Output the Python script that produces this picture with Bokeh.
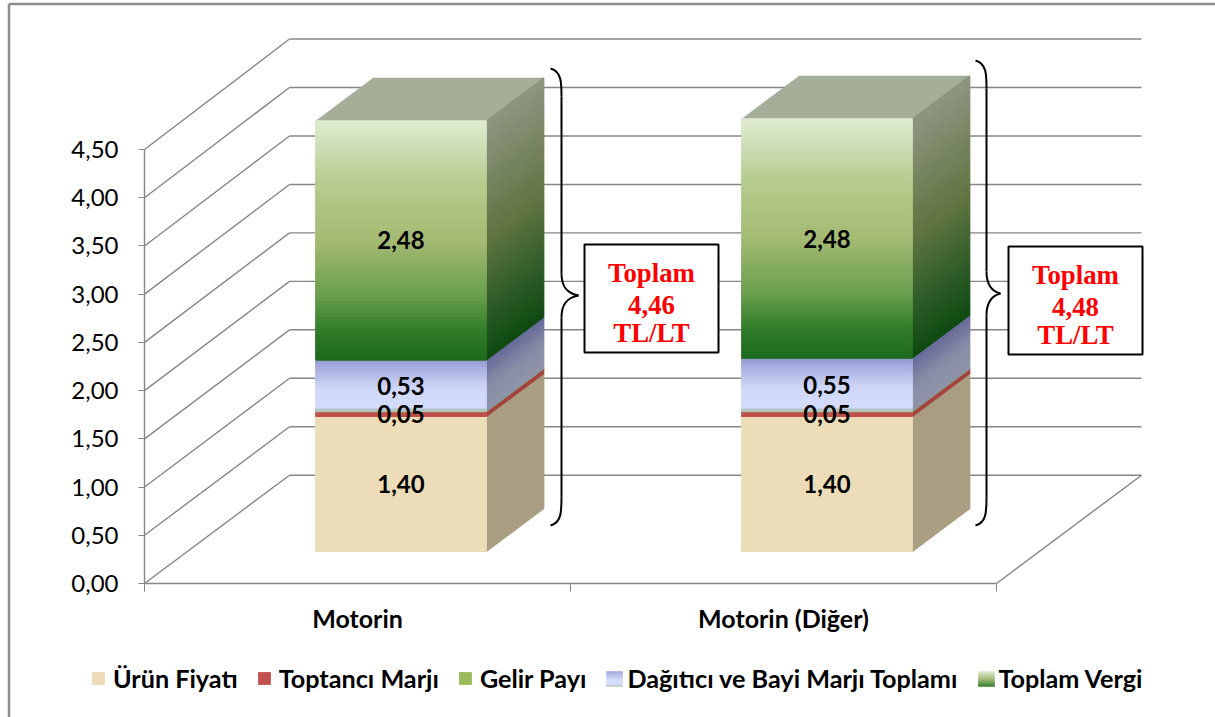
from bokeh.plotting import figure
from bokeh.models import (ColumnDataSource, Range1d, LinearAxis, FixedTicker, Legend, LegendItem,
                          CustomJSTickFormatter)
from bokeh.core.properties import value
from bokeh.embed import file_html
from bokeh.resources import INLINE

# ---- data ----
categories = ["Motorin", "Motorin (Diğer)"]
urun_fiyati = [1.40, 1.40]
toptanci_marji = [0.05, 0.05]
gelir_payi = [0.005, 0.005]
dagitici_bayi = [0.53, 0.55]
toplam_vergi = [2.48, 2.48]
value_labels_urun = ["1,40", "1,40"]
value_labels_toptan = ["0,05", "0,05"]
value_labels_dagitici = ["0,53", "0,55"]
value_labels_vergi = ["2,48", "2,48"]
totals = ["4,46", "4,48"]
y_ticks = [0, 0.5, 1, 1.5, 2, 2.5, 3, 3.5, 4, 4.5]
series_names = ["Ürün Fiyatı", "Toptancı Marjı", "Gelir Payı", "Dağıtıcı ve Bayi Marjı Toplamı", "Toplam Vergi"]

# ---- layout (screen pixels of the page) ----
W, H = 1215, 717
PX_X = 426.0      # pixels per category
PX_Y = 96.44      # pixels per value unit
X0, Y0 = 144.0, 583.0   # where the axes meet
BACK_SCALE = 1.005      # the back wall is drawn very slightly taller


def ux(px):       # horizontal pixel length -> data
    return px / PX_X


def uy(px):       # vertical pixel length -> data
    return px / PX_Y


def dx(px):       # page x -> data x
    return (px - X0) / PX_X


def dy(py):       # page y -> data y
    return (Y0 - py) / PX_Y


FLOOR_X, FLOOR_Y = ux(145), uy(108.3)
BAR_OFF_X, BAR_OFF_Y = ux(43.5), uy(32)
BAR_DEPTH_X, BAR_DEPTH_Y = ux(57.5), uy(43)
BAR_HALF = ux(85.25)

p = figure(width=W, height=H, output_backend="svg", toolbar_location=None,
           x_range=Range1d(dx(0), dx(W)), y_range=Range1d(dy(H), dy(0)),
           min_border=0, outline_line_color=None, x_axis_type=None, y_axis_type=None,
           margin=(0, 0, 0, 0))
p.xgrid.visible = False
p.ygrid.visible = False

GRID = "#868686"
GRID_W = 1.4

# outer frame of the chart area
p.segment([dx(8.5)], [dy(3.5)], [dx(W)], [dy(3.5)], line_color="#8c8c8c", line_width=2.5)
p.segment([dx(8.5)], [dy(3.5)], [dx(8.5)], [dy(H)], line_color="#8c8c8c", line_width=2.5)

# walls: diagonal on the side wall, horizontal on the back wall
n_cat = len(categories)
back_y = [t * BACK_SCALE + FLOOR_Y for t in y_ticks]
p.segment(x0=[0] * len(y_ticks), y0=y_ticks,
          x1=[FLOOR_X] * len(y_ticks), y1=back_y,
          line_color=GRID, line_width=GRID_W)
p.segment(x0=[FLOOR_X] * len(y_ticks), y0=back_y,
          x1=[n_cat + FLOOR_X] * len(y_ticks), y1=back_y,
          line_color=GRID, line_width=GRID_W)
# floor, right edge
p.segment([n_cat], [0], [n_cat + FLOOR_X], [FLOOR_Y], line_color=GRID, line_width=GRID_W)

# axes
yaxis = LinearAxis(ticker=FixedTicker(ticks=y_ticks), fixed_location=0, bounds=(0, 4.5))
yaxis.formatter = CustomJSTickFormatter(code="return tick.toFixed(2).replace('.', ',')")
yaxis.axis_line_color = GRID
yaxis.axis_line_width = GRID_W
yaxis.major_tick_line_color = GRID
yaxis.major_tick_out = 6
yaxis.major_tick_in = 0
yaxis.minor_tick_line_color = None
yaxis.major_label_text_font = "Lato"
yaxis.major_label_text_font_size = "24px"
yaxis.major_label_text_color = "#000000"
yaxis.major_label_standoff = 20
p.add_layout(yaxis, "left")

centres = [i + 0.5 for i in range(n_cat)]
xaxis = LinearAxis(ticker=FixedTicker(ticks=centres, minor_ticks=list(range(n_cat + 1))),
                   fixed_location=0, bounds=(0, n_cat))
xaxis.major_label_overrides = {c: n for c, n in zip(centres, categories)}
xaxis.axis_line_color = GRID
xaxis.axis_line_width = GRID_W
xaxis.major_tick_out = 0
xaxis.major_tick_in = 0
xaxis.minor_tick_out = 8
xaxis.minor_tick_in = 0
xaxis.minor_tick_line_color = GRID
xaxis.major_label_text_font = "Lato"
xaxis.major_label_text_font_style = "bold"
xaxis.major_label_text_font_size = "25px"
xaxis.major_label_text_color = "#000000"
xaxis.major_label_standoff = 11
p.add_layout(xaxis, "below")


# ---- gradient helper: colour stops as (fraction, hex) ----
def rgb(h):
    return tuple(int(h[i:i + 2], 16) for i in (1, 3, 5))


def ramp(stops, f):
    for (f0, c0), (f1, c1) in zip(stops, stops[1:]):
        if f <= f1:
            t = (f - f0) / (f1 - f0) if f1 > f0 else 0
            a, b = rgb(c0), rgb(c1)
            return "#%02x%02x%02x" % tuple(round(a[k] + (b[k] - a[k]) * t) for k in range(3))
    return stops[-1][1]


FRONT_STYLES = [
    [(0, "#f0e0bd"), (0.5, "#ecdcb8"), (1, "#f1e2c0")],
    [(0, "#c0504d"), (1, "#c0504d")],
    [(0, "#9bbb59"), (1, "#9bbb59")],
    [(0, "#9fb4a4"), (0.08, "#d3dcfb"), (0.45, "#d0d8f8"), (0.85, "#a8aee0"), (1, "#959bd0")],
    [(0, "#1c6a1c"), (0.12, "#2f7b28"), (0.28, "#6ba04e"), (0.5, "#a3ba72"), (0.75, "#b7cc8f"), (1, "#dfebd2")],
]
SIDE_STYLES = [
    [(0, "#a99d82"), (1, "#a99d82")],
    [(0, "#a5443f"), (1, "#a5443f")],
    [(0, "#7f9a4c"), (1, "#7f9a4c")],
    [(0, "#8f95a8"), (0.5, "#878ca6"), (1, "#676b9a")],
    [(0, "#0e4a10"), (0.2, "#2b5a26"), (0.5, "#5f7440"), (0.8, "#7c8868"), (1, "#8d9682")],
]
STRIPS = [1, 1, 1, 16, 60]
TOP_COLOUR = "#a4ae98"
series = [urun_fiyati, toptanci_marji, gelir_payi, dagitici_bayi, toplam_vergi]

# ---- bars ----
f_l, f_r, f_b, f_t, f_c = [], [], [], [], []
s_x, s_y, s_c = [], [], []
t_x, t_y = [], []
for c in range(n_cat):
    cx = c + 0.5 + BAR_OFF_X
    left, right = cx - BAR_HALF, cx + BAR_HALF
    base = BAR_OFF_Y
    for vals, fs, ss, n in zip(series, FRONT_STYLES, SIDE_STYLES, STRIPS):
        v = vals[c]
        for i in range(n):
            b = base + v * i / n
            t = base + v * (i + 1) / n
            f = (i + 0.5) / n
            f_l.append(left); f_r.append(right); f_b.append(b); f_t.append(t)
            f_c.append(ramp(fs, f))
            s_x.append([right, right + BAR_DEPTH_X, right + BAR_DEPTH_X, right])
            s_y.append([b, b + BAR_DEPTH_Y, t + BAR_DEPTH_Y, t])
            s_c.append(ramp(ss, f))
        base += v
    t_x.append([left, left + BAR_DEPTH_X, right + BAR_DEPTH_X, right])
    t_y.append([base, base + BAR_DEPTH_Y, base + BAR_DEPTH_Y, base])

p.patches(t_x, t_y, fill_color=TOP_COLOUR, line_color=TOP_COLOUR, line_width=0.5)
p.patches("x", "y", source=ColumnDataSource(dict(x=s_x, y=s_y, c=s_c)),
          fill_color="c", line_color="c", line_width=1.2)
p.quad(left="l", right="r", bottom="b", top="t",
       source=ColumnDataSource(dict(l=f_l, r=f_r, b=f_b, t=f_t, c=f_c)),
       fill_color="c", line_color="c", line_width=1.2)

# ---- value labels ----
lab_x, lab_y, lab_t = [], [], []
for c in range(n_cat):
    cx = c + 0.5 + BAR_OFF_X
    u, w, g, d, tx = urun_fiyati[c], toptanci_marji[c], gelir_payi[c], dagitici_bayi[c], toplam_vergi[c]
    for mid, txt in ((u / 2, value_labels_urun[c]),
                     (u + w / 2, value_labels_toptan[c]),
                     (u + w + g + d / 2, value_labels_dagitici[c]),
                     (u + w + g + d + tx / 2, value_labels_vergi[c])):
        lab_x.append(cx); lab_y.append(mid + BAR_OFF_Y); lab_t.append(txt)
p.text(lab_x, lab_y, text=lab_t, text_font=value("Lato"), text_font_style="bold",
       text_font_size="24px", text_color="#000000", text_align="center", text_baseline="middle")

# ---- braces and total boxes (annotation shapes, page pixels) ----
BRACE_W = 2.0
for c, (xa, xb, xt, ytop, ytip, ybot) in enumerate([(550, 561, 578, 68, 295, 525),
                                                    (975, 986, 1000, 60, 293, 525)]):
    for y1, y2, s in ((ytop, ytip, 1), (ybot, ytip, -1)):
        # outer curl, straight run, inner curl toward the tip
        p.bezier(x0=[dx(xa)], y0=[dy(y1)], x1=[dx(xb)], y1=[dy(y1 + s * 28)],
                 cx0=[dx(xb)], cy0=[dy(y1 + s * 3)], cx1=[dx(xb)], cy1=[dy(y1 + s * 14)],
                 line_color="#000000", line_width=BRACE_W)
        p.segment([dx(xb)], [dy(y1 + s * 28)], [dx(xb)], [dy(y2 - s * 22)],
                  line_color="#000000", line_width=BRACE_W)
        p.bezier(x0=[dx(xb)], y0=[dy(y2 - s * 22)], x1=[dx(xt)], y1=[dy(y2)],
                 cx0=[dx(xb)], cy0=[dy(y2 - s * 8)], cx1=[dx(xb + 6)], cy1=[dy(y2 - s * 2)],
                 line_color="#000000", line_width=BRACE_W)

boxes = [(584, 718, 244, 352), (1008, 1142, 246, 354)]
for (l, r, t, b), total in zip(boxes, totals):
    p.quad(left=[dx(l)], right=[dx(r)], top=[dy(t)], bottom=[dy(b)],
           fill_color="#ffffff", line_color="#000000", line_width=2)
    xc = dx((l + r) / 2)
    for off, txt in ((28, "Toplam"), (60, total), (88, "TL/LT")):
        p.text([xc], [dy(t + off)], text=[txt], text_font=value("Liberation Serif"),
               text_font_style="bold", text_font_size="26.8px", text_color="#ff0000",
               text_align="center", text_baseline="middle")

# ---- legend (the two gradient keys are left clear and shaded underneath) ----
legend_colours = ["#eedcb8", "#c0504d", "#9bbb59", "#b4bbe8", "#7fa860"]
legend_alpha = [1, 1, 1, 0, 0]
items = []
for name, col, al in zip(series_names, legend_colours, legend_alpha):
    r = p.quad(left=[0], right=[0], top=[0], bottom=[0], fill_color=col, fill_alpha=al, line_color=None)
    items.append(LegendItem(label=name, renderers=[r]))
legend = Legend(items=items, orientation="horizontal", location=(90, 24),
                background_fill_alpha=0, border_line_color=None,
                label_text_font="Lato", label_text_font_style="bold", label_text_font_size="25.2px",
                label_text_color="#000000", glyph_width=16, glyph_height=16,
                label_standoff=7, spacing=18, padding=0, margin=0)
p.add_layout(legend, "center")

SWATCHES = [(606, 622, 671, 686, [(0, "#9aa2d8"), (0.6, "#d3dcfb"), (0.9, "#d0d8f8"), (1, "#a9c0a8")]),
            (978, 994, 671, 686, [(0, "#dfebd2"), (0.5, "#a3ba72"), (1, "#2a7a24")])]
for l, r, t, b, stops in SWATCHES:
    n = 15
    for i in range(n):
        colour = ramp(stops, (i + 0.5) / n)
        p.quad(left=[dx(l)], right=[dx(r)], top=[dy(t + (b - t) * i / n)], bottom=[dy(t + (b - t) * (i + 1) / n)],
               fill_color=colour, line_color=colour, line_width=0.5)

open("out.html", "w").write(file_html(p, INLINE))
